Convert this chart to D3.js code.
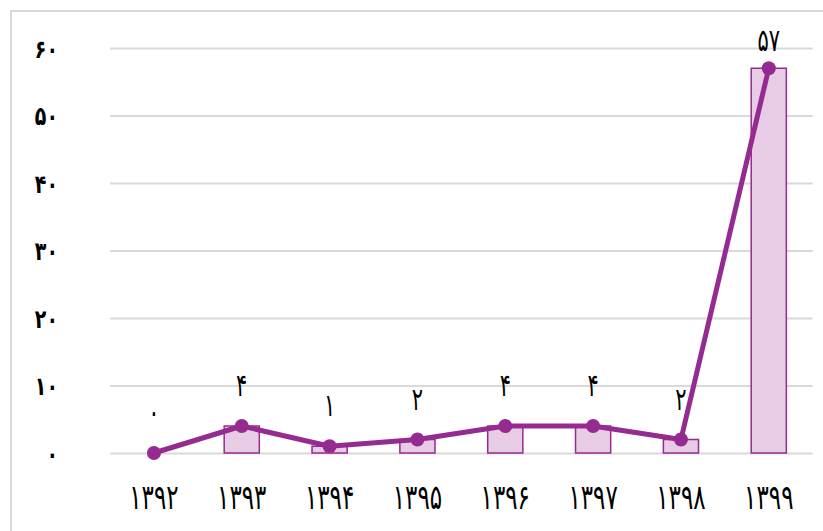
<!DOCTYPE html>
<html><head><meta charset="utf-8">
<script src="https://cdn.jsdelivr.net/npm/d3@7"></script>
<style>body{margin:0;background:#fff}svg{display:block}</style>
</head><body>
<svg id="c" width="823" height="531"></svg>
<script>
const categories = ["۱۳۹۲","۱۳۹۳","۱۳۹۴","۱۳۹۵","۱۳۹۶","۱۳۹۷","۱۳۹۸","۱۳۹۹"];
const values = [0,4,1,2,4,4,2,57];
const valueLabels = ["۰","۴","۱","۲","۴","۴","۲","۵۷"];
const yTicks = [0,10,20,30,40,50,60];
const yTickLabels = ["۰","۱۰","۲۰","۳۰","۴۰","۵۰","۶۰"];

const svg = d3.select("#c");
const purple = "#952A91", light = "#E8CCE6", grid = "#D9D9D9";
const font = "'DejaVu Sans', sans-serif";

svg.append("rect").attr("x",11).attr("y",11).attr("width",900).attr("height",600)
  .attr("fill","#fff").attr("stroke",grid).attr("stroke-width",2);

const x = d3.scaleBand().domain(categories).range([110,812.7]).paddingInner(0.6).paddingOuter(0.3);
const y = d3.scaleLinear().domain([0,60]).range([453,48]);

const gy = svg.append("g").attr("transform","translate(110,0)")
  .call(d3.axisLeft(y).tickValues(yTicks).tickSize(-702.7).tickFormat((d,i)=>yTickLabels[i]));
gy.select(".domain").remove();
gy.selectAll(".tick line").attr("stroke",grid).attr("stroke-width",2);
gy.selectAll(".tick text").attr("x",0).attr("dy",null).attr("dominant-baseline","central")
  .attr("transform","translate(-52,0) scale(1,1.35)")
  .attr("font-family",font).attr("font-size",19).attr("font-weight","bold").attr("fill","#000");

const gx = svg.append("g").attr("transform","translate(0,453)")
  .call(d3.axisBottom(x).tickSize(0));
gx.select(".domain").remove();
gx.selectAll(".tick text").attr("y",0).attr("dy",null).attr("dominant-baseline","central")
  .attr("transform","translate(0,44) scale(1,1.5)")
  .attr("font-family",font).attr("font-size",23).attr("fill","#000");

svg.append("g").selectAll("rect").data(values).join("rect")
  .attr("x",(d,i)=>x(categories[i])).attr("width",x.bandwidth())
  .attr("y",d=>y(d)).attr("height",d=>y(0)-y(d))
  .attr("fill",light).attr("stroke",purple).attr("stroke-width",1.5);

const cx = (d,i)=>x(categories[i])+x.bandwidth()/2;
svg.append("path").datum(values)
  .attr("d",d3.line().x(cx).y(d=>y(d)))
  .attr("fill","none").attr("stroke",purple).attr("stroke-width",5).attr("stroke-linejoin","round");

svg.append("g").selectAll("circle").data(values).join("circle")
  .attr("cx",cx).attr("cy",d=>y(d)).attr("r",7).attr("fill",purple);

svg.append("g").selectAll("text").data(values).join("text")
  .attr("x",0).attr("y",0)
  .attr("transform",(d,i)=>`translate(${cx(d,i)},${Math.max(y(d)-41,40)}) scale(1,1.5)`)
  .attr("text-anchor","middle").attr("dominant-baseline","central")
  .attr("font-family",font).attr("font-size",21).attr("fill","#000")
  .text((d,i)=>valueLabels[i]);
</script>
</body></html>
